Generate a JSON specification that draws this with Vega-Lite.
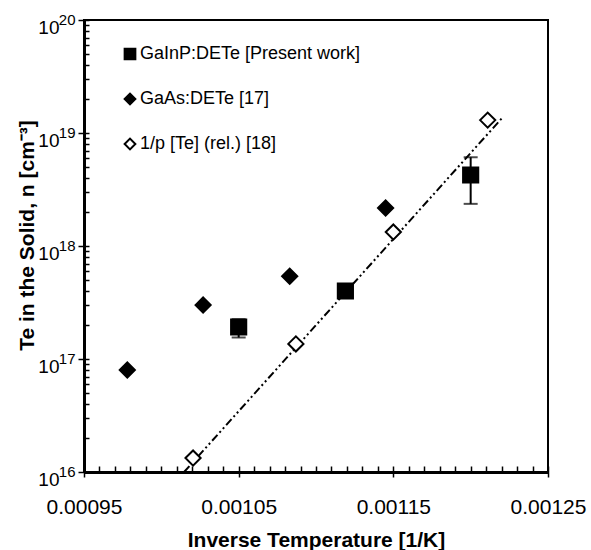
{
  "$schema": "https://vega.github.io/schema/vega-lite/v6.json",
  "autosize": {"type": "none"},
  "width": 464,
  "height": 452,
  "padding": {"left": 84, "top": 20, "right": 43, "bottom": 78},
  "background": "white",
  "config": {
    "view": {"stroke": "black", "strokeWidth": 2},
    "font": "Liberation Sans",
    "axis": {"domainColor": "black", "domainWidth": 3, "tickColor": "black", "grid": false, "labelColor": "black", "titleColor": "black"}
  },
  "datasets": {
    "pts": [
      {"series": "GaInP:DETe [Present work]", "invT": 0.00105, "n": 1.92e17, "lo": 1.55e17, "hi": 2.25e17},
      {"series": "GaInP:DETe [Present work]", "invT": 0.001119, "n": 4.0e17},
      {"series": "GaInP:DETe [Present work]", "invT": 0.0012, "n": 4.25e18, "lo": 2.36e18, "hi": 6.1e18},
      {"series": "GaAs:DETe [17]", "invT": 0.000978, "n": 8.0e16},
      {"series": "GaAs:DETe [17]", "invT": 0.001027, "n": 3.0e17},
      {"series": "GaAs:DETe [17]", "invT": 0.001083, "n": 5.4e17},
      {"series": "GaAs:DETe [17]", "invT": 0.001145, "n": 2.17e18},
      {"series": "1/p [Te] (rel.) [18]", "invT": 0.0010205, "n": 1.33e16},
      {"series": "1/p [Te] (rel.) [18]", "invT": 0.001087, "n": 1.36e17},
      {"series": "1/p [Te] (rel.) [18]", "invT": 0.00115, "n": 1.33e18},
      {"series": "1/p [Te] (rel.) [18]", "invT": 0.001211, "n": 1.3e19}
    ],
    "fit": [
      {"invT": 0.0010147, "n": 1.0e16},
      {"invT": 0.001221, "n": 1.39e19}
    ]
  },
  "resolve": {"axis": {"x": "independent", "y": "independent"}},
  "layer": [
    {
      "encoding": {
        "x": {
          "field": "invT", "type": "quantitative",
          "scale": {"domain": [0.00095, 0.00125], "nice": false, "zero": false},
          "axis": {
            "orient": "bottom",
            "title": "Inverse Temperature [1/K]",
            "titleFont": "Liberation Sans", "titleFontSize": 21, "titleFontWeight": "bold",
            "titleBaseline": "alphabetic", "titleY": 74,
            "values": [0.00095, 0.00105, 0.00115, 0.00125],
            "format": ".5f",
            "labelFontSize": 21, "labelFont": "Liberation Sans", "labelPadding": 19, "labelOverlap": false, "labelFlush": false,
            "tickSize": 5, "tickWidth": 1.5
          }
        },
        "y": {
          "field": "n", "type": "quantitative",
          "scale": {"type": "log", "domain": [1e16, 1e20], "nice": false},
          "axis": {
            "orient": "left",
            "title": "Te in the Solid, n [cm⁻³]",
            "titleFont": "Liberation Sans", "titleFontSize": 21, "titleFontWeight": "bold",
            "titleBaseline": "alphabetic", "titleX": -51, "titleY": 215, "titleAngle": -90,
            "values": [1e16, 1e17, 1e18, 1e19, 1e20],
            "labelExpr": "'10'",
            "labelFontSize": 19, "labelFont": "Liberation Sans", "labelPadding": 19, "labelOffset": 7, "labelOverlap": false, "labelFlush": false,
            "tickSize": 6, "tickWidth": 1.5
          }
        }
      },
      "layer": [
        {
          "data": {"name": "fit"},
          "mark": {"type": "line", "color": "black", "strokeWidth": 2, "strokeDash": [8, 3, 2, 3, 2, 3]}
        },
        {
          "data": {"name": "pts"},
          "transform": [{"filter": "isValid(datum.lo)"}],
          "mark": {"type": "rule", "color": "black", "strokeWidth": 2},
          "encoding": {"y": {"field": "lo", "type": "quantitative"}, "y2": {"field": "hi"}}
        },
        {
          "data": {"name": "pts"},
          "transform": [{"filter": "isValid(datum.lo)"}],
          "mark": {"type": "tick", "orient": "horizontal", "color": "black", "size": 14, "thickness": 2},
          "encoding": {"y": {"field": "lo", "type": "quantitative"}}
        },
        {
          "data": {"name": "pts"},
          "transform": [{"filter": "isValid(datum.hi)"}],
          "mark": {"type": "tick", "orient": "horizontal", "color": "black", "size": 14, "thickness": 2},
          "encoding": {"y": {"field": "hi", "type": "quantitative"}}
        },
        {
          "data": {"name": "pts"},
          "mark": {"type": "point", "filled": true, "strokeWidth": 2, "size": 230, "opacity": 1},
          "encoding": {
            "shape": {
              "field": "series", "type": "nominal",
              "scale": {"domain": ["GaInP:DETe [Present work]", "GaAs:DETe [17]", "1/p [Te] (rel.) [18]"], "range": ["square", "diamond", "diamond"]},
              "legend": {"orient": "none", "legendX": 37, "legendY": 25, "direction": "vertical", "title": null, "labelFontSize": 18, "labelColor": "black", "symbolSize": 115, "symbolOpacity": 1, "symbolStrokeWidth": 2, "rowPadding": 25, "labelOffset": 1, "labelLimit": 400, "labelExpr": "datum.label == 'GaAs:DETe [17]' ? '\u00a0' + datum.label : datum.label"}
            },
            "fill": {
              "field": "series", "type": "nominal",
              "scale": {"domain": ["GaInP:DETe [Present work]", "GaAs:DETe [17]", "1/p [Te] (rel.) [18]"], "range": ["black", "black", "white"]},
              "legend": {"orient": "none", "legendX": 37, "legendY": 25, "direction": "vertical", "title": null, "labelFontSize": 18, "labelColor": "black", "symbolSize": 115, "symbolOpacity": 1, "symbolStrokeWidth": 2, "rowPadding": 25, "labelOffset": 1, "labelLimit": 400, "labelExpr": "datum.label == 'GaAs:DETe [17]' ? '\u00a0' + datum.label : datum.label"}
            },
            "stroke": {
              "field": "series", "type": "nominal",
              "scale": {"domain": ["GaInP:DETe [Present work]", "GaAs:DETe [17]", "1/p [Te] (rel.) [18]"], "range": ["black", "black", "black"]},
              "legend": {"orient": "none", "legendX": 37, "legendY": 25, "direction": "vertical", "title": null, "labelFontSize": 18, "labelColor": "black", "symbolSize": 115, "symbolOpacity": 1, "symbolStrokeWidth": 2, "rowPadding": 25, "labelOffset": 1, "labelLimit": 400, "labelExpr": "datum.label == 'GaAs:DETe [17]' ? '\u00a0' + datum.label : datum.label"}
            }
          }
        }
      ]
    },
    {
      "data": {"name": "fit"},
      "mark": {"type": "point", "opacity": 0},
      "encoding": {
        "x": {
          "field": "invT", "type": "quantitative",
          "scale": {"domain": [0.00095, 0.00125], "nice": false, "zero": false},
          "axis": {
            "orient": "bottom", "title": null, "labels": false, "domain": false,
            "values": [0.00095, 0.00096, 0.00097, 0.00098, 0.00099, 0.001, 0.00101, 0.00102, 0.00103, 0.00104, 0.00105, 0.00106, 0.00107, 0.00108, 0.00109, 0.0011, 0.00111, 0.00112, 0.00113, 0.00114, 0.00115, 0.00116, 0.00117, 0.00118, 0.00119, 0.0012, 0.00121, 0.00122, 0.00123, 0.00124, 0.00125],
            "tickSize": -6, "tickWidth": 1.5
          }
        },
        "y": {
          "field": "n", "type": "quantitative",
          "scale": {"type": "log", "domain": [1e16, 1e20], "nice": false},
          "axis": {
            "orient": "left", "title": null, "domain": false,
            "values": [1e16, 2e16, 3e16, 4e16, 5e16, 6e16, 7e16, 8e16, 9e16, 1e17, 2e17, 3e17, 4e17, 5e17, 6e17, 7e17, 8e17, 9e17, 1e18, 2e18, 3e18, 4e18, 5e18, 6e18, 7e18, 8e18, 9e18, 1e19, 2e19, 3e19, 4e19, 5e19, 6e19, 7e19, 8e19, 9e19, 1e20],
            "labelExpr": "datum.value == 1e16 ? '16' : datum.value == 1e17 ? '17' : datum.value == 1e18 ? '18' : datum.value == 1e19 ? '19' : datum.value == 1e20 ? '20' : ''",
            "labelFontSize": 15, "labelFont": "Liberation Sans", "labelPadding": 14, "labelOffset": -1, "labelOverlap": false, "labelFlush": false,
            "tickSize": -5, "tickWidth": 1.5
          }
        }
      }
    }
  ]
}
